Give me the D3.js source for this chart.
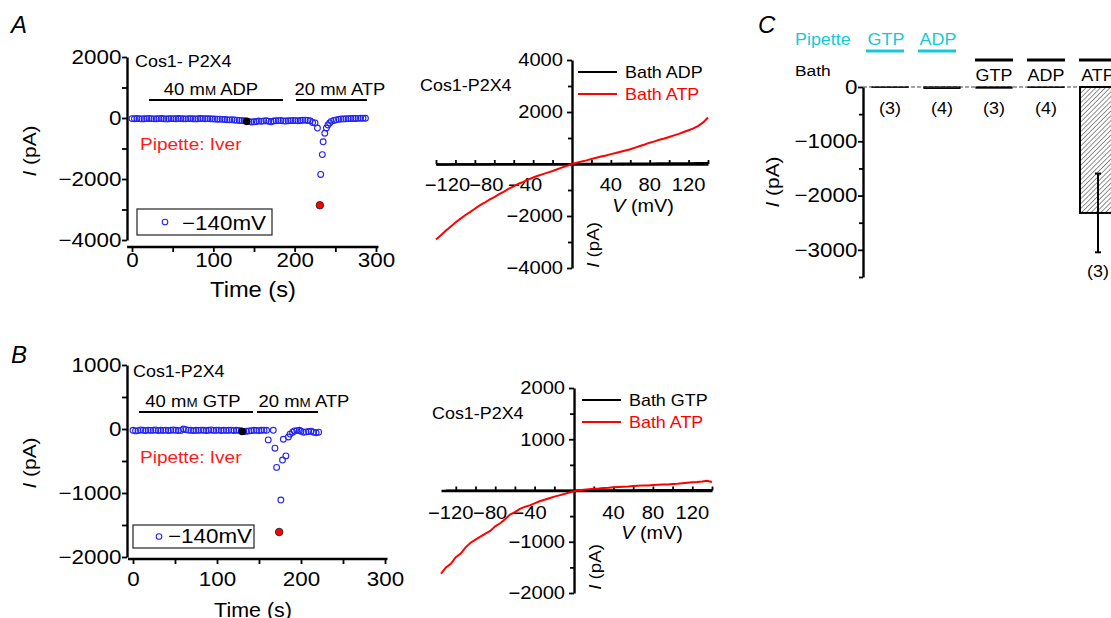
<!DOCTYPE html>
<html>
<head>
<meta charset="utf-8">
<script src="https://cdn.jsdelivr.net/npm/d3@7"></script>
<style>
  body { margin: 0; background: #fff; }
  svg { display: block; }
  text { font-family: "Liberation Sans", Arial, Helvetica, sans-serif; }
</style>
</head>
<body>
<svg id="fig" width="1111" height="618"></svg>
<script>
// ---- A: time course at -140 mV (bath ADP, then ATP) ----
const timeA = [0,3,6,9,12,15,18,21,24,27,30,33,36,39,42,45,48,51,54,57,60,63,66,69,72,75,78,81,84,87,90,93,96,99,102,105,108,111,114,117,120,123,126,129,132,135,138,
  141,144,147,150,153,156,159,162,165,168,171,174,177,180,183,186,189,192,195,198,201,204,207,210,213,216,219,
  222,225,228,231,232,234,235,237,239,241,243,245,248,251,254,257,260,263,266,269,272,275,278,281,284,287];
const currA = [-20,-25,-18,-22,-30,-24,-20,-15,-22,-28,-25,-20,-18,-24,-30,-26,-20,-22,-25,-18,-20,-24,-28,-22,-20,-25,-30,-24,-18,-20,
  -26,-22,-25,-30,-35,-40,-38,-45,-50,-55,-60,-55,-65,-70,-80,-85,-90,
  -110,-120,-130,-125,-115,-100,-110,-95,-90,-105,-125,-100,-90,-85,-80,-95,-100,-90,-85,-80,-85,-90,-80,-75,-70,-80,-90,
  -150,-160,-330,-2860,-1850,-1200,-780,-500,-330,-230,-160,-110,-80,-60,-45,-35,-30,-25,-20,-18,-15,-15,-12,-10,-10,-8];
const markA = { ctrlT: 141, ctrlI: -110, peakT: 231, peakI: -2860 };

// ---- B: time course at -140 mV (bath GTP, then ATP) ----
const timeB = [0,3,6,9,12,15,18,21,24,27,30,33,36,39,42,45,48,51,54,57,60,63,66,69,72,75,78,81,84,87,90,93,96,99,102,105,108,111,114,117,
  120,123,126,129,132,135,138,141,144,147,150,153,156,159,
  161,167,169,171,174,176,178,179,182,185,187,190,192,195,198,200,203,206,209,212,215,218,221];
const currB = [-20,-30,-25,-15,-20,-25,-18,-22,-20,-15,-25,-20,-22,-18,-25,-20,-15,-20,-25,-22,0,-10,-18,-20,-25,-20,-22,-18,-20,-25,
  -20,-15,-22,-20,-18,-25,-20,-22,-20,-18,-25,-20,-22,-30,-40,-35,-30,-25,-20,-22,-25,-20,-18,-20,
  -170,-20,-300,-600,-1610,-1110,-485,-160,-420,-125,-80,-50,-30,-25,-20,-35,-50,-45,-40,-35,-50,-60,-50];
const markB = { ctrlT: 130, ctrlI: -40, peakT: 174, peakI: -1610 };

// ---- I-V curves ----
const ivVoltA = [-140,-135,-130,-125,-120,-115,-110,-105,-100,-95,-90,-85,-80,-75,-70,-65,-60,-55,-50,-45,-40,-35,-30,-25,-20,-15,-10,-5,
  0,5,10,15,20,25,30,35,40,45,50,55,60,65,70,75,80,85,90,95,100,105,110,115,120,125,130,135,140];
const ivAtpA = [-2900,-2740,-2570,-2410,-2250,-2110,-1970,-1850,-1720,-1590,-1490,-1370,-1270,-1160,-1060,-950,-860,-760,-690,-600,-520,-450,-390,-330,-270,-200,-130,-70,
  0,50,100,140,190,240,290,330,380,420,470,520,570,630,690,750,820,870,930,980,1040,1100,1160,1230,1300,1370,1470,1600,1790];
const ivVoltCtl = [-140,-130,-120,-110,-100,-90,-80,-70,-60,-50,-40,-30,-20,-10,0,10,20,30,40,50,60,70,80,90,100,110,120,130,140];
const ivAdpA = [-20,-15,-10,-10,-5,-5,0,0,0,0,0,0,0,0,0,5,5,10,10,15,15,20,20,25,25,30,30,35,40];

const ivVoltB = [-135,-130,-125,-120,-115,-110,-105,-100,-95,-90,-85,-80,-75,-70,-65,-60,-55,-50,-45,-40,-35,-30,-25,-20,-15,-10,-5,
  0,5,10,15,20,25,30,35,40,45,50,55,60,65,70,75,80,85,90,95,100,105,110,115,120,125,130,135,140];
const ivAtpB = [-1620,-1500,-1430,-1300,-1230,-1110,-1020,-960,-900,-840,-790,-700,-640,-560,-470,-420,-360,-320,-290,-250,-210,-180,-150,-120,-95,-70,-40,
  -15,5,15,25,35,40,50,55,65,70,75,80,90,95,100,100,105,110,115,115,125,130,140,150,160,165,175,190,165];
const ivVoltGtp = [-130,-120,-110,-100,-90,-80,-70,-60,-50,-40,-30,-20,-10,0,10,20,30,40,50,60,70,80,90,100,110,120,130,140];
const ivGtpB = [0,0,0,0,0,0,0,0,0,0,0,0,0,0,5,5,5,5,5,5,10,10,10,10,10,10,10,10];

// ---- C: summary bars ----
const condC = ["pGTP", "pADP", "bGTP", "bADP", "bATP"];
const pipetteC = ["GTP", "ADP", "", "", ""];
const bathC = ["", "", "GTP", "ADP", "ATP"];
const meanC = [-5, -25, -20, -6, -2320];
const errC = [0, 0, 0, 0, 725];
const nC = ["(3)", "(4)", "(3)", "(4)", "(3)"];

const SX = 1.12;
const svg = d3.select("#fig");

function txt(g, x, y, s, o = {}) {
  const t = g.append("text")
    .attr("transform", `translate(${x},${y}) rotate(${o.rot || 0}) scale(${o.sx || SX},1)`)
    .attr("font-size", o.size || 16)
    .attr("text-anchor", o.anchor || "start")
    .attr("fill", o.fill || "#000");
  const parts = Array.isArray(s) ? s : [[s]];
  parts.forEach(([str, st]) => {
    const sp = t.append("tspan").text(str);
    if (st) Object.entries(st).forEach(([k, v]) => sp.attr(k, v));
  });
  return t;
}

function styleAxis(g, size) {
  g.attr("font-family", null);
  g.selectAll("text").attr("font-size", size).attr("fill", "#000").attr("transform", `scale(${SX},1)`);
  g.selectAll("line").attr("stroke-width", 1.8);
  g.select(".domain").attr("stroke-width", 2.4);
}

const ipA = [["I", { "font-style": "italic" }], [" (pA)"]];

// ---------------- time course panels ----------------
function timeCourse(c) {
  const g = svg.append("g");
  const x = d3.scaleLinear([0, 300], c.xRange);
  const y = d3.scaleLinear(c.yDomain, c.yRange);

  const ya = g.append("g").attr("transform", "translate(127,0)")
    .call(d3.axisLeft(y).tickValues(c.yTicks).tickSize(5).tickSizeOuter(0).tickPadding(0)
      .tickFormat(d => d3.format("d")(d).replace("-", "\u2212")));
  styleAxis(ya, 20);
  g.append("g").attr("transform", "translate(127,0)")
    .call(d3.axisLeft(y).tickValues(c.yMinor).tickSize(5).tickFormat(""))
    .call(a => a.select(".domain").remove())
    .selectAll("line").attr("stroke-width", 1.8);

  const xa = g.append("g").attr("transform", `translate(0,${c.xAxisY})`)
    .call(d3.axisBottom(x).tickValues([0, 100, 200, 300]).tickSize(5).tickPadding(c.xPad));
  xa.select(".domain").remove();
  styleAxis(xa, 20);
  g.append("g").attr("transform", `translate(0,${c.xAxisY})`)
    .call(d3.axisBottom(x).tickValues([50, 150, 250]).tickSize(5).tickFormat(""))
    .call(a => a.select(".domain").remove())
    .selectAll("line").attr("stroke-width", 1.8);
  g.append("line").attr("x1", x(-6)).attr("x2", x(c.xEnd)).attr("y1", c.xAxisY).attr("y2", c.xAxisY)
    .attr("stroke", "#000").attr("stroke-width", 2.4);

  txt(g, 253, c.xLabelY, "Time (s)", { size: c.xLabelSize, anchor: "middle", sx: 1.1 });
  txt(g, 36, c.yLabelY, ipA, { size: 19, anchor: "middle", rot: -90, sx: 1.1 });

  txt(g, c.titleX, c.titleY, c.title, { size: 16 });
  c.bars.forEach(b => {
    g.append("line").attr("x1", b.x1).attr("x2", b.x2).attr("y1", b.ly).attr("y2", b.ly)
      .attr("stroke", "#000").attr("stroke-width", 2);
    txt(g, b.tx, b.ty, [[b.pre], ["M", { "font-size": 12 }], [b.post]], { size: 16.5, anchor: "middle" });
  });
  txt(g, 140, c.pipY, "Pipette: Iver", { size: 17, fill: "#ff1a1a" });

  g.append("rect").attr("x", c.leg[0]).attr("y", c.leg[1]).attr("width", c.leg[2]).attr("height", c.leg[3])
    .attr("fill", "#fff").attr("stroke", "#222").attr("stroke-width", 1.2);
  g.append("circle").attr("cx", c.leg[0] + c.legDot).attr("cy", c.leg[1] + c.leg[3] / 2).attr("r", 2.8)
    .attr("fill", "none").attr("stroke", "#2323f5").attr("stroke-width", 1.1);
  txt(g, c.leg[0] + c.legText, c.leg[1] + c.leg[3] - 5, "\u2212140mV", { size: 20 });

  g.selectAll("circle.pt").data(c.t).join("circle").attr("class", "pt")
    .attr("cx", d => x(d)).attr("cy", (d, i) => y(c.i[i])).attr("r", 2.9)
    .attr("fill", "none").attr("stroke", "#2323f5").attr("stroke-width", 1.1);
  g.append("circle").attr("cx", x(c.mark.ctrlT)).attr("cy", y(c.mark.ctrlI)).attr("r", 3.8).attr("fill", "#000");
  g.append("circle").attr("cx", x(c.mark.peakT)).attr("cy", y(c.mark.peakI)).attr("r", 3.8)
    .attr("fill", "#f00").attr("stroke", "#222").attr("stroke-width", 0.8);
}

timeCourse({
  xRange: [132, 376], yDomain: [-4000, 2000], yRange: [240, 57], xEnd: 303,
  yTicks: [-4000, -2000, 0, 2000], yMinor: [-3000, -1000, 1000],
  xAxisY: 247, xPad: 1, xLabelY: 297, xLabelSize: 21.5, yLabelY: 151,
  title: "Cos1- P2X4", titleX: 135, titleY: 67,
  bars: [{ x1: 149, x2: 283, ly: 100, tx: 211, ty: 95, pre: "40 m", post: " ADP" },
         { x1: 296, x2: 367, ly: 100, tx: 340, ty: 95, pre: "20 m", post: " ATP" }],
  pipY: 150, leg: [137, 209, 135, 26], legDot: 28, legText: 45,
  t: timeA, i: currA, mark: markA
});

timeCourse({
  xRange: [133, 385], yDomain: [-2000, 1000], yRange: [557, 365], xEnd: 303,
  yTicks: [-2000, -1000, 0, 1000], yMinor: [-1500, -500, 500],
  xAxisY: 559, xPad: 8, xLabelY: 617, xLabelSize: 19.5, yLabelY: 463,
  title: "Cos1-P2X4", titleX: 133, titleY: 377,
  bars: [{ x1: 139, x2: 253, ly: 412, tx: 193, ty: 407, pre: "40 m", post: " GTP" },
         { x1: 257, x2: 318, ly: 412, tx: 304, ty: 407, pre: "20 m", post: " ATP" }],
  pipY: 463, leg: [133, 525, 121, 23], legDot: 26, legText: 35,
  t: timeB, i: currB, mark: markB
});

// ---------------- I-V panels ----------------
function ivPanel(c) {
  const g = svg.append("g");
  const x = d3.scaleLinear(c.xDomain, c.xRange);
  const y = d3.scaleLinear(c.yDomain, c.yRange);
  const x0 = x(0), y0 = y(0);

  const ya = g.append("g").attr("transform", `translate(${x0},0)`)
    .call(d3.axisLeft(y).tickValues(c.yTicks).tickSize(5).tickSizeOuter(0).tickPadding(3)
      .tickFormat(d => d3.format("d")(d).replace("-", "\u2212")));
  styleAxis(ya, 18);
  g.append("g").attr("transform", `translate(${x0},0)`)
    .call(d3.axisLeft(y).tickValues(c.yMinor).tickSize(4).tickFormat(""))
    .call(a => a.select(".domain").remove())
    .selectAll("line").attr("stroke-width", 1.8);

  const xa = g.append("g").attr("transform", `translate(0,${y0})`)
    .call(d3.axisBottom(x).tickValues(c.xTicks).tickSize(-4).tickSizeOuter(0).tickFormat(""));
  styleAxis(xa, 18);
  c.xLabels.forEach(v => {
    txt(g, x(v) + (v < 0 ? c.negShift : 0), y0 + c.xLabDy, String(v).replace("-", "\u2212"),
      { size: 18, anchor: "middle" });
  });

  txt(g, c.vLab[0], c.vLab[1], [["V", { "font-style": "italic" }], [" (mV)"]], { size: 18, anchor: "middle", sx: 1.1 });
  txt(g, c.iLab[0], c.iLab[1], ipA, { size: 17, anchor: "middle", rot: -90, sx: 1.1 });
  txt(g, c.title[0], c.title[1], "Cos1-P2X4", { size: 16 });

  const line = d3.line().x(d => x(d[0])).y(d => y(d[1]));
  g.append("path").datum(c.ctlV.map((v, i) => [v, c.ctlI[i]])).attr("d", line)
    .attr("fill", "none").attr("stroke", "#000").attr("stroke-width", 2);
  g.append("path").datum(c.atpV.map((v, i) => [v, c.atpI[i]])).attr("d", line)
    .attr("fill", "none").attr("stroke", "#ff0000").attr("stroke-width", 2);

  [[c.legY, "#000", c.ctlName], [c.legY + 22, "#ff0000", "Bath ATP"]].forEach(([ly, col, name]) => {
    g.append("line").attr("x1", c.legX).attr("x2", c.legX + 39).attr("y1", ly).attr("y2", ly)
      .attr("stroke", col).attr("stroke-width", 2);
    txt(g, c.legX + 47, ly + 6, name, { size: 16, fill: col });
  });
}

ivPanel({
  xDomain: [-140, 140], xRange: [436, 708], yDomain: [-4000, 4000], yRange: [268, 60],
  yTicks: [-4000, -2000, 2000, 4000], yMinor: [-3000, -1000, 1000, 3000],
  xTicks: d3.range(-140, 141, 20).filter(v => v !== 0), xLabels: [-120, -80, -40, 40, 80, 120],
  negShift: -8, xLabDy: 27,
  vLab: [643, 212], iLab: [599, 245], title: [420, 91],
  ctlV: ivVoltCtl, ctlI: ivAdpA, atpV: ivVoltA, atpI: ivAtpA,
  legX: 578, legY: 72, ctlName: "Bath ADP"
});

ivPanel({
  xDomain: [-135, 140], xRange: [441, 712], yDomain: [-2000, 2000], yRange: [593, 388],
  yTicks: [-2000, -1000, 1000, 2000], yMinor: [-1500, -500, 500, 1500],
  xTicks: d3.range(-120, 141, 20).filter(v => v !== 0), xLabels: [-120, -80, -40, 40, 80, 120],
  negShift: -5, xLabDy: 28,
  vLab: [652, 539], iLab: [601, 567], title: [432, 419],
  ctlV: ivVoltGtp, ctlI: ivGtpB, atpV: ivVoltB, atpI: ivAtpB,
  legX: 582, legY: 400, ctlName: "Bath GTP"
});

// ---------------- C: bar summary ----------------
{
  const g = svg.append("g");
  const x = d3.scalePoint(condC, [890, 1098]);
  const y = d3.scaleLinear([-3500, 0], [277, 87]);
  const bw = 36;

  const defs = svg.append("defs");
  defs.append("pattern").attr("id", "hatch").attr("width", 3.4).attr("height", 3.4)
    .attr("patternUnits", "userSpaceOnUse").attr("patternTransform", "rotate(45)")
    .append("line").attr("x1", 0).attr("y1", 0).attr("x2", 0).attr("y2", 3.4)
    .attr("stroke", "#222").attr("stroke-width", 1);

  g.append("line").attr("x1", 863).attr("x2", 1111).attr("y1", y(0)).attr("y2", y(0))
    .attr("stroke", "#444").attr("stroke-width", 1).attr("stroke-dasharray", "4,2");

  g.selectAll("rect.bar").data(condC).join("rect").attr("class", "bar")
    .attr("x", d => x(d) - bw / 2).attr("width", bw)
    .attr("y", y(0)).attr("height", (d, i) => y(meanC[i]) - y(0))
    .attr("fill", (d, i) => meanC[i] < -500 ? "url(#hatch)" : "#fff")
    .attr("stroke", "#000").attr("stroke-width", (d, i) => meanC[i] < -500 ? 2 : 1.2);

  condC.forEach((d, i) => {
    const cx = x(d);
    if (errC[i] > 0) {
      const top = y(meanC[i] + errC[i]), bot = y(meanC[i] - errC[i]);
      g.append("line").attr("x1", cx).attr("x2", cx).attr("y1", top).attr("y2", bot).attr("stroke", "#000").attr("stroke-width", 2);
      [top, bot].forEach(yy => g.append("line").attr("x1", cx - 3).attr("x2", cx + 3).attr("y1", yy).attr("y2", yy)
        .attr("stroke", "#000").attr("stroke-width", 2));
      txt(g, cx, bot + 25, nC[i], { size: 16, anchor: "middle" });
    } else {
      txt(g, cx, 114, nC[i], { size: 16, anchor: "middle" });
    }
    if (pipetteC[i]) {
      txt(g, cx - 4, 45, pipetteC[i], { size: 16, anchor: "middle", fill: "#16c9d6" });
      g.append("line").attr("x1", cx - 24).attr("x2", cx + 14).attr("y1", 51).attr("y2", 51)
        .attr("stroke", "#16c9d6").attr("stroke-width", 3);
    }
    if (bathC[i]) {
      txt(g, cx, 81, bathC[i], { size: 16, anchor: "middle" });
      g.append("line").attr("x1", cx - 19).attr("x2", cx + 19).attr("y1", 60).attr("y2", 60)
        .attr("stroke", "#000").attr("stroke-width", 3);
    }
  });

  txt(g, 795, 45, "Pipette", { size: 16, fill: "#16c9d6" });
  txt(g, 795, 76, "Bath", { size: 15.5 });

  const ya = g.append("g").attr("transform", "translate(863,0)")
    .call(d3.axisLeft(y).tickValues([-3000, -2000, -1000, 0]).tickSize(5).tickSizeOuter(0).tickPadding(0)
      .tickFormat(d => d3.format("d")(d).replace("-", "\u2212")));
  styleAxis(ya, 20);
  g.append("g").attr("transform", "translate(863,0)")
    .call(d3.axisLeft(y).tickValues([-3500, -2500, -1500, -500]).tickSize(4).tickFormat(""))
    .call(a => a.select(".domain").remove())
    .selectAll("line").attr("stroke-width", 1.8);

  txt(g, 779, 182, ipA, { size: 19, anchor: "middle", rot: -90, sx: 1.1 });
}

// panel letters
txt(svg, 11, 33, [["A", { "font-style": "italic" }]], { size: 24, sx: 1 });
txt(svg, 11, 363, [["B", { "font-style": "italic" }]], { size: 24, sx: 1 });
txt(svg, 758, 33, [["C", { "font-style": "italic" }]], { size: 24, sx: 1 });
</script>
</body>
</html>
